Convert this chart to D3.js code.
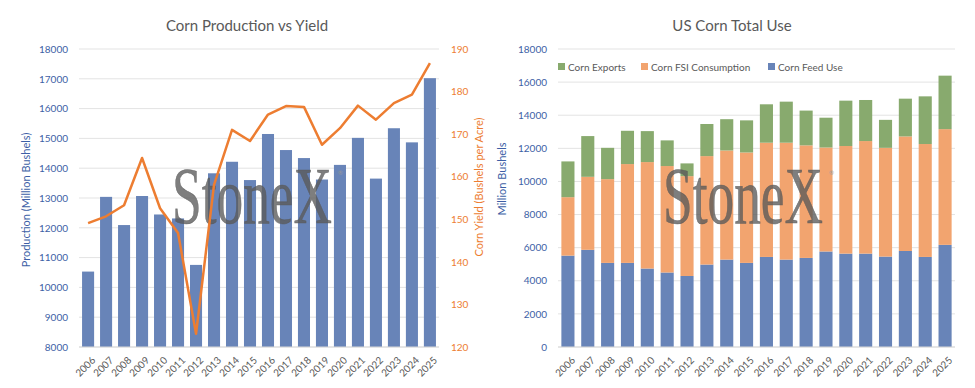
<!DOCTYPE html>
<html>
<head>
<meta charset="utf-8">
<script src="https://cdn.jsdelivr.net/npm/d3@7"></script>
<style>
  body { margin: 0; background: #fff; }
  svg { display: block; font-family: Lato, "Noto Sans", sans-serif; }
</style>
</head>
<body>
<svg id="chart" width="975" height="388"></svg>
<script>
const years = ["2006","2007","2008","2009","2010","2011","2012","2013","2014","2015",
  "2016","2017","2018","2019","2020","2021","2022","2023","2024","2025"];

// Left chart: production (million bushels) and yield (bushels per acre)
const production = [10531, 13038, 12092, 13067, 12447, 12314, 10755, 13829, 14216, 13602,
  15148, 14609, 14340, 13620, 14111, 15018, 13651, 15341, 14867, 17021];
const yieldValues = [149.1, 150.7, 153.3, 164.4, 152.6, 146.8, 123.1, 158.1, 171.0, 168.4,
  174.6, 176.6, 176.4, 167.5, 171.4, 176.7, 173.4, 177.3, 179.3, 186.7];
const prodTicks = [8000, 9000, 10000, 11000, 12000, 13000, 14000, 15000, 16000, 17000, 18000];
const yieldTicks = [120, 130, 140, 150, 160, 170, 180, 190];

// Right chart: total use split (million bushels)
const feedUse = [5520, 5870, 5080, 5080, 4740, 4500, 4290, 4980, 5280, 5080,
  5440, 5280, 5380, 5770, 5640, 5640, 5460, 5800, 5440, 6170];
const fsiUse = [3530, 4410, 5060, 5970, 6430, 6430, 6030, 6550, 6590, 6670,
  6900, 7060, 6800, 6280, 6500, 6800, 6570, 6920, 6820, 6990];
const exportsUse = [2160, 2460, 1890, 2010, 1870, 1550, 770, 1940, 1890, 1940,
  2320, 2480, 2100, 1800, 2740, 2480, 1690, 2280, 2880, 3230];
const useTicks = [0, 2000, 4000, 6000, 8000, 10000, 12000, 14000, 16000, 18000];

const seriesNames = ["Corn Exports", "Corn FSI Consumption", "Corn Feed Use"];

const blue = "#6884b8", orange = "#ed7d31", fsiColor = "#f2a46f", green = "#88aa6e";
const grid = "#e3e3e3", textGray = "#595959", axisBlue = "#3d5fa6";

const svg = d3.select("#chart");
const plotTop = 49, plotBottom = 347;

// StoneX watermark: serif text squeezed horizontally to ~164px wide
function watermark(g, x, y) {
  const wm = g.append("g").attr("transform", `translate(${x},${y})`);
  const t = wm.append("text")
    .attr("font-family", "'Liberation Serif', 'DejaVu Serif', serif")
    .attr("font-size", 80)
    .attr("fill", "#5a5a5a")
    .attr("fill-opacity", 0.78)
    .attr("stroke", "#5a5a5a")
    .attr("stroke-opacity", 0.78)
    .attr("stroke-width", 0.6)
    .text("StoneX");
  const len = t.node().getComputedTextLength();
  t.attr("transform", `scale(${160 / len},1)`);
  g.append("text")
    .attr("x", x + 166).attr("y", y - 48)
    .attr("font-size", 6)
    .attr("fill", "#999")
    .text("®");
}

// ---------- Left chart ----------
const left = svg.append("g");
const x1 = d3.scaleBand().domain(years).range([79, 439]).paddingInner(0.33).paddingOuter(0.17);
const yProd = d3.scaleLinear().domain([8000, 18000]).range([plotBottom, plotTop]);
const yYield = d3.scaleLinear().domain([120, 190]).range([plotBottom, plotTop]);

left.append("text")
  .attr("x", 247).attr("y", 31)
  .attr("text-anchor", "middle")
  .attr("font-size", 15)
  .attr("fill", textGray)
  .text("Corn Production vs Yield");

// gridlines
left.append("g").selectAll("line").data(prodTicks).join("line")
  .attr("x1", 79).attr("x2", 439)
  .attr("y1", d => yProd(d)).attr("y2", d => yProd(d))
  .attr("stroke", grid).attr("stroke-width", 1);

// left axis
const axL = left.append("g").attr("transform", "translate(72,0)")
  .call(d3.axisLeft(yProd).tickValues(prodTicks).tickSize(0).tickPadding(4).tickFormat(d3.format("d")));
axL.select(".domain").remove();
axL.selectAll("text").attr("fill", axisBlue).attr("font-size", 10).attr("font-family", "Lato, sans-serif");

// right axis
const axR = left.append("g").attr("transform", "translate(447,0)")
  .call(d3.axisRight(yYield).tickValues(yieldTicks).tickSize(0).tickPadding(4));
axR.select(".domain").remove();
axR.selectAll("text").attr("fill", orange).attr("font-size", 10).attr("font-family", "Lato, sans-serif");

left.append("text")
  .attr("transform", "translate(30,200) rotate(-90)")
  .attr("text-anchor", "middle")
  .attr("font-size", 11)
  .attr("fill", axisBlue)
  .text("Production (Million Bushels)");

left.append("text")
  .attr("transform", "translate(483,187) rotate(-90)")
  .attr("text-anchor", "middle")
  .attr("font-size", 11)
  .attr("fill", orange)
  .text("Corn Yield (Bushels per Acre)");

// bars
left.append("g").selectAll("rect").data(production).join("rect")
  .attr("x", (d, i) => x1(years[i]))
  .attr("width", x1.bandwidth())
  .attr("y", d => yProd(d))
  .attr("height", d => yProd(8000) - yProd(d))
  .attr("fill", blue);

// baseline
left.append("line").attr("x1", 79).attr("x2", 439).attr("y1", plotBottom).attr("y2", plotBottom)
  .attr("stroke", "#d9d9d9");

watermark(left, 172, 223);

// yield line
const line = d3.line()
  .x((d, i) => x1(years[i]) + x1.bandwidth() / 2)
  .y(d => yYield(d));
left.append("path").datum(yieldValues)
  .attr("d", line)
  .attr("fill", "none")
  .attr("stroke", orange)
  .attr("stroke-width", 2.5)
  .attr("stroke-linejoin", "round");

// x labels
left.append("g").selectAll("text").data(years).join("text")
  .attr("transform", d => `translate(${x1(d) + x1.bandwidth() / 2 + 3},${plotBottom + 9}) rotate(-45)`)
  .attr("text-anchor", "end")
  .attr("dy", "0.7em")
  .attr("font-size", 10)
  .attr("fill", textGray)
  .text(d => d);

// ---------- Right chart ----------
const right = svg.append("g");
const x2 = d3.scaleBand().domain(years).range([558, 955]).paddingInner(0.34).paddingOuter(0.17);
const yUse = d3.scaleLinear().domain([0, 18000]).range([plotBottom, plotTop]);

right.append("text")
  .attr("x", 732).attr("y", 31)
  .attr("text-anchor", "middle")
  .attr("font-size", 15)
  .attr("fill", textGray)
  .text("US Corn Total Use");

right.append("g").selectAll("line").data(useTicks).join("line")
  .attr("x1", 558).attr("x2", 955)
  .attr("y1", d => yUse(d)).attr("y2", d => yUse(d))
  .attr("stroke", grid);

const axU = right.append("g").attr("transform", "translate(551,0)")
  .call(d3.axisLeft(yUse).tickValues(useTicks).tickSize(0).tickPadding(4).tickFormat(d3.format("d")));
axU.select(".domain").remove();
axU.selectAll("text").attr("fill", axisBlue).attr("font-size", 10).attr("font-family", "Lato, sans-serif");

right.append("text")
  .attr("transform", "translate(506,179) rotate(-90)")
  .attr("text-anchor", "middle")
  .attr("font-size", 11)
  .attr("fill", axisBlue)
  .text("Million Bushels");

const stackData = years.map((y, i) => ({ year: y, feed: feedUse[i], fsi: fsiUse[i], exp: exportsUse[i] }));
const stack = d3.stack().keys(["feed", "fsi", "exp"])(stackData);
const stackColors = { feed: blue, fsi: fsiColor, exp: green };

right.append("g").selectAll("g").data(stack).join("g")
  .attr("fill", d => stackColors[d.key])
  .selectAll("rect").data(d => d).join("rect")
  .attr("x", d => x2(d.data.year))
  .attr("width", x2.bandwidth())
  .attr("y", d => yUse(d[1]))
  .attr("height", d => yUse(d[0]) - yUse(d[1]));

right.append("line").attr("x1", 558).attr("x2", 955).attr("y1", plotBottom).attr("y2", plotBottom)
  .attr("stroke", "#d9d9d9");

watermark(right, 663, 223);

// legend
const legendX = [558, 641, 768];
const legendColors = [green, fsiColor, blue];
const lg = right.append("g").selectAll("g").data(seriesNames).join("g")
  .attr("transform", (d, i) => `translate(${legendX[i]},67)`);
lg.append("rect").attr("x", 0).attr("y", -4).attr("width", 7).attr("height", 7)
  .attr("fill", (d, i) => legendColors[i]);
lg.append("text").attr("x", 10).attr("y", 0).attr("dy", "0.35em")
  .attr("font-size", 10).attr("fill", textGray).text(d => d);

right.append("g").selectAll("text").data(years).join("text")
  .attr("transform", d => `translate(${x2(d) + x2.bandwidth() / 2 + 3},${plotBottom + 9}) rotate(-45)`)
  .attr("text-anchor", "end")
  .attr("dy", "0.7em")
  .attr("font-size", 10)
  .attr("fill", textGray)
  .text(d => d);
</script>
</body>
</html>
